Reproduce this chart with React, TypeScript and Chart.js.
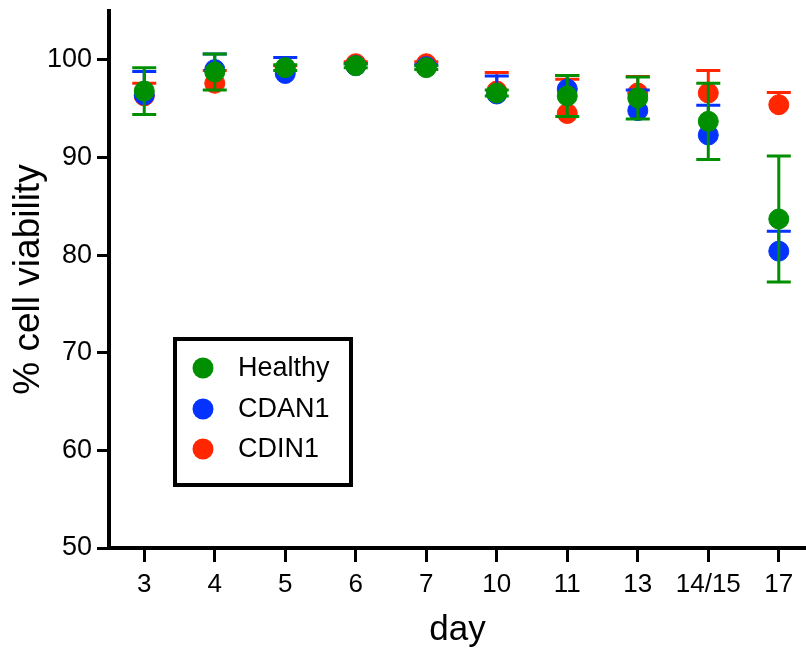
import React, { useEffect, useRef } from "react";
import { Chart, registerables } from "chart.js";

Chart.register(...registerables);

const days = ["3", "4", "5", "6", "7", "10", "11", "13", "14/15", "17"];
const yTickValues = [50, 60, 70, 80, 90, 100];

const healthy = [96.8, 98.75, 99.2, 99.4, 99.2, 96.6, 96.3, 96.1, 93.7, 83.7];
const healthyErr = [2.4, 1.85, 0.3, 0.2, 0.2, 0.3, 2.1, 2.15, 3.9, 6.45];

const cdan1 = [96.4, 99.0, 98.6, 99.4, 99.3, 96.5, 97.0, 94.8, 92.3, 80.4];
const cdan1Err = [2.4, 1.6, 1.65, 0.2, 0.2, 1.85, 1.4, 2.1, 3.05, 2.05];

const cdin1 = [96.3, 97.6, 99.0, 99.6, 99.6, 96.8, 94.5, 96.6, 96.6, 95.4];
const cdin1Err = [1.3, 1.3, 0.4, 0.2, 0.2, 1.9, 3.5, 1.7, 2.3, 1.25];

const GREEN = "#008F00";
const BLUE = "#0433FF";
const RED = "#FF2600";
const FONT = "'Liberation Sans', Arial, Helvetica, sans-serif";

const errorBarPlugin = {
  id: "errorBars",
  afterDatasetDraw(chart: any, args: any) {
    const ds = chart.data.datasets[args.index];
    const meta = args.meta;
    const yScale = chart.scales.y;
    const ctx = chart.ctx;
    ctx.save();
    ctx.strokeStyle = ds.borderColor;
    ctx.lineWidth = 3;
    ctx.lineCap = "butt";
    meta.data.forEach((pt: any, i: number) => {
      const v = ds.data[i].y;
      const e = ds.errors[i];
      const x = pt.x;
      const yTop = yScale.getPixelForValue(v + e);
      const yBot = ds.symmetric ? yScale.getPixelForValue(v - e) : pt.y;
      ctx.beginPath();
      ctx.moveTo(x, yTop);
      ctx.lineTo(x, yBot);
      ctx.moveTo(x - 12, yTop);
      ctx.lineTo(x + 12, yTop);
      if (ds.symmetric) {
        ctx.moveTo(x - 12, yBot);
        ctx.lineTo(x + 12, yBot);
      }
      ctx.stroke();
    });
    ctx.restore();
  },
};

const legendPlugin = {
  id: "boxLegend",
  afterDraw(chart: any) {
    const ctx = chart.ctx;
    ctx.save();
    ctx.strokeStyle = "#000";
    ctx.lineWidth = 4;
    ctx.strokeRect(175, 339, 176, 146);
    ctx.font = `27px ${FONT}`;
    ctx.textBaseline = "middle";
    ctx.textAlign = "left";
    const rows = [368, 409, 449];
    chart.data.datasets.forEach((ds: any, i: number) => {
      const y = rows[i];
      ctx.fillStyle = ds.backgroundColor;
      ctx.beginPath();
      ctx.arc(203, y, 10.5, 0, Math.PI * 2);
      ctx.fill();
      ctx.fillStyle = "#000";
      ctx.fillText(ds.label, 238, y + 1);
    });
    ctx.restore();
  },
};

function toPoints(vals: number[]) {
  return vals.map((v, i) => ({ x: i + 1, y: v }));
}

export default function App() {
  const ref = useRef<HTMLCanvasElement | null>(null);
  useEffect(() => {
    if (!ref.current) return;
    const mk = (label: string, vals: number[], errs: number[], color: string, symmetric: boolean) => ({
      label,
      data: toPoints(vals),
      errors: errs,
      symmetric,
      backgroundColor: color,
      borderColor: color,
      pointBackgroundColor: color,
      pointBorderColor: color,
      pointRadius: 10,
      pointBorderWidth: 1,
      showLine: false,
    });
    const chart = new Chart(ref.current, {
      type: "scatter",
      data: {
        datasets: [
          mk("Healthy", healthy, healthyErr, GREEN, true),
          mk("CDAN1", cdan1, cdan1Err, BLUE, false),
          mk("CDIN1", cdin1, cdin1Err, RED, false),
        ] as any,
      },
      options: {
        responsive: false,
        animation: false,
        events: [],
        layout: { autoPadding: false, padding: { top: 11, left: 0, right: 0, bottom: 0 } },
        plugins: { legend: { display: false }, tooltip: { enabled: false } },
        scales: {
          x: {
            type: "linear",
            position: "bottom",
            min: 0.5,
            max: 10.386,
            afterBuildTicks: (s: any) => {
              s.ticks = days.map((_, i) => ({ value: i + 1 }));
            },
            afterFit: (s: any) => {
              s.height = 107;
              s.paddingLeft = 0;
              s.paddingRight = 0;
            },
            ticks: {
              autoSkip: false,
              maxRotation: 0,
              color: "#000",
              padding: 7,
              font: { family: FONT, size: 26 },
              callback: (v: any) => days[Math.round(v) - 1] ?? "",
            },
            grid: {
              drawOnChartArea: false,
              drawTicks: true,
              tickLength: 14,
              tickWidth: 3,
              tickColor: "#000",
              color: "#000",
            },
            border: { display: true, color: "#000", width: 4 },
            title: {
              display: true,
              text: "day",
              color: "#000",
              font: { family: FONT, size: 35 },
              padding: { top: 0, bottom: 4 },
            },
          },
          y: {
            type: "linear",
            min: 50,
            max: 105,
            afterBuildTicks: (s: any) => {
              s.ticks = yTickValues.map((v) => ({ value: v }));
            },
            afterFit: (s: any) => {
              s.width = 109;
              s.paddingTop = 0;
              s.paddingBottom = 0;
            },
            ticks: {
              color: "#000",
              padding: 5,
              font: { family: FONT, size: 27 },
            },
            grid: {
              drawOnChartArea: false,
              drawTicks: true,
              tickLength: 12,
              tickWidth: 3,
              tickColor: "#000",
              color: "#000",
            },
            border: { display: true, color: "#000", width: 4 },
            title: {
              display: true,
              text: "% cell viability",
              color: "#000",
              font: { family: FONT, size: 37 },
              padding: { top: 7, bottom: 0 },
            },
          },
        },
      } as any,
      plugins: [errorBarPlugin, legendPlugin],
    });
    return () => chart.destroy();
  }, []);
  return (
    <div style={{ position: "fixed", left: 0, top: 0, width: 806, height: 655, overflow: "hidden", background: "#fff" }}>
      <canvas ref={ref} width={806} height={655} style={{ display: "block" }} />
    </div>
  );
}
